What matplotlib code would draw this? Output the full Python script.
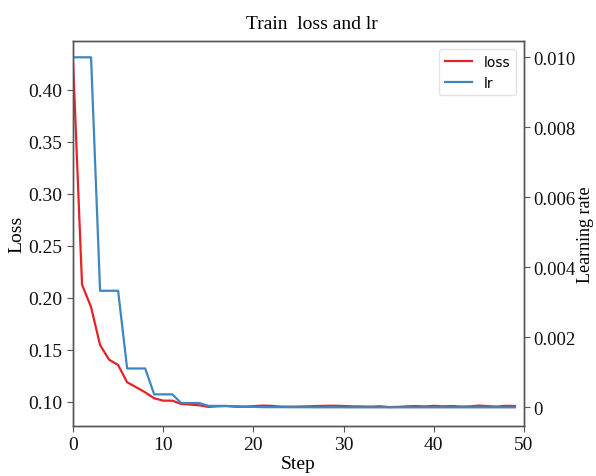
#!/usr/bin/env python3
"""Train loss and learning rate per step, two y axes."""
import matplotlib
matplotlib.use('Agg')
import matplotlib.pyplot as plt

steps = list(range(50))
loss = [0.428, 0.2126, 0.191, 0.1545, 0.1404, 0.1353, 0.1187, 0.1139, 0.1090, 0.1033,
        0.1010, 0.1010, 0.0978, 0.0972, 0.0965, 0.0950, 0.0955, 0.0958, 0.0955, 0.0953,
        0.0957, 0.0962, 0.0960, 0.0953, 0.0952, 0.0953, 0.0955, 0.0958, 0.0960, 0.0961,
        0.0958, 0.0955, 0.0954, 0.0952, 0.0956, 0.0948, 0.0950, 0.0955, 0.0958, 0.0954,
        0.0960, 0.0955, 0.0958, 0.0953, 0.0955, 0.0962, 0.0957, 0.0953, 0.0960, 0.0958]
lr = [0.01, 0.01, 0.01, 0.00333, 0.00333, 0.00333, 0.00111, 0.00111, 0.00111, 0.00037,
      0.00037, 0.00037, 0.000123, 0.000123, 0.000123, 0.000041, 0.000041, 0.000041,
      0.000014, 0.000014, 0.000014, 0.000005, 0.000005, 0.000005, 0.000002, 0.000002,
      0.000002, 0.0000005, 0.0000005, 0.0000005, 0.0, 0.0, 0.0, 0.0, 0.0, 0.0, 0.0,
      0.0, 0.0, 0.0, 0.0, 0.0, 0.0, 0.0, 0.0, 0.0, 0.0, 0.0, 0.0, 0.0]

loss_ticks = [0.10, 0.15, 0.20, 0.25, 0.30, 0.35, 0.40]
lr_ticks = [0, 0.002, 0.004, 0.006, 0.008, 0.010]
lr_labels = ['0', '0.002', '0.004', '0.006', '0.008', '0.010']
x_ticks = [0, 10, 20, 30, 40, 50]

RED = '#e62228'
BLUE = '#3c87c2'
SPINE = '#555555'
serif = 'Liberation Serif'

fig = plt.figure(figsize=(5.96, 4.77), dpi=100)
ax = fig.add_axes([0.1225, 0.1048, 0.7567, 0.8072])
ax2 = ax.twinx()

l1, = ax.plot(steps, loss, color=RED, lw=1.6, label='loss')
l2, = ax2.plot(steps, lr, color=BLUE, lw=1.6, label='lr')

ax.set_xlim(0, 50)
ax.set_ylim(0.0766, 0.447)
ax2.set_ylim(-0.000534, 0.010466)

ax.set_xticks(x_ticks)
ax.set_yticks(loss_ticks)
ax.set_yticklabels([f'{v:.2f}' for v in loss_ticks])
ax2.set_yticks(lr_ticks)
ax2.set_yticklabels(lr_labels)

for a in (ax, ax2):
    for s in a.spines.values():
        s.set_color(SPINE)
        s.set_linewidth(1.0)
    a.tick_params(colors=SPINE, labelcolor='#111111', labelsize=14, length=4)
    for t in a.get_xticklabels() + a.get_yticklabels():
        t.set_fontfamily(serif)
ax2.tick_params(labelsize=13.5, pad=3)

ax.set_xlabel('Step', fontsize=14, family=serif, labelpad=1)
ax.set_ylabel('Loss', fontsize=14, family=serif, labelpad=2)
ax2.set_ylabel('Learning rate', fontsize=13, family=serif)
ax2.yaxis.set_label_coords(1.118, 0.5)
ax.set_title('Train  loss and lr', fontsize=14, family=serif, x=0.53, pad=9)

ax.legend(handles=[l1, l2], loc='upper right', fontsize=10, framealpha=0.8,
          edgecolor='#dddddd', borderaxespad=0.6)

fig.savefig('out.png', dpi=100)
